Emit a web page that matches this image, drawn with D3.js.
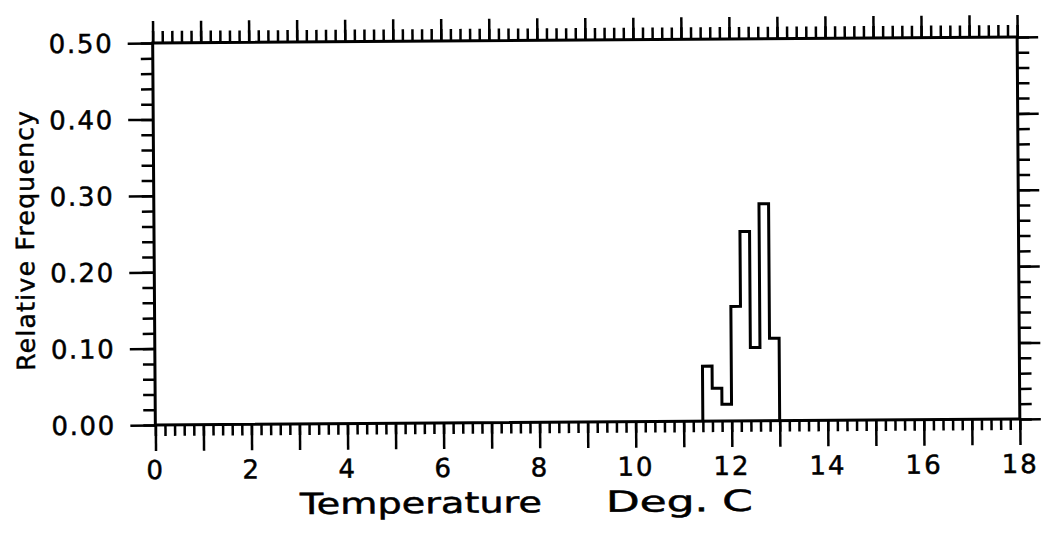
<!DOCTYPE html>
<html>
<head>
<meta charset="utf-8">
<script src="https://cdn.jsdelivr.net/npm/d3@7"></script>
<style>
  html, body { margin: 0; padding: 0; background: #fff; }
  svg { display: block; }
  text { font-family: "DejaVu Sans", sans-serif; fill: #000; stroke: #000; stroke-width: 0.5px; }
</style>
</head>
<body>
<svg id="chart" width="1045" height="541"></svg>
<script>
// ---- data ----
const binLefts = [11.4, 11.6, 11.8, 12.0, 12.2, 12.4, 12.6, 12.8];
const binWidth = 0.2;
const relFreq = [0.072, 0.043, 0.022, 0.150, 0.248, 0.096, 0.284, 0.108];
const xTickLabels = [0, 2, 4, 6, 8, 10, 12, 14, 16, 18];
const yTickLabels = [0.00, 0.10, 0.20, 0.30, 0.40, 0.50];
const xDomain = [0, 18];
const yDomain = [0, 0.5];
const xTitle = "Temperature   Deg. C";
const yTitle = "Relative Frequency";

// ---- layout ----
const L = 154, R = 1018.5, T = 40, B = 422;
const svg = d3.select("#chart");
const g = svg.append("g").attr("transform", "rotate(-0.4, 586, 231)");

const x = d3.scaleLinear().domain(xDomain).range([L, R]);
const y = d3.scaleLinear().domain(yDomain).range([B, T]);

const xMinor = d3.range(0, 91).map(i => i * 0.2);
const xMajor = d3.range(0, 19);
const yMinor = d3.range(0, 26).map(i => i * 0.02);
const yMajor = d3.range(0, 6).map(i => i * 0.1);

function tickAxis(axisFn, scale, values, size, transform) {
  const a = g.append("g").attr("transform", transform)
    .call(axisFn(scale).tickValues(values).tickSize(size).tickFormat(""));
  a.select(".domain").remove();
  a.selectAll("line").attr("stroke", "#000").attr("stroke-width", 2.5);
  a.selectAll("text").remove();
  return a;
}

// bottom
tickAxis(d3.axisBottom, x, xMinor, 11, `translate(0,${B})`);
tickAxis(d3.axisBottom, x, xMajor, 26, `translate(0,${B})`);
// top
tickAxis(d3.axisTop, x, xMinor, 12, `translate(0,${T})`);
tickAxis(d3.axisTop, x, xMajor, 22, `translate(0,${T})`);
// left
tickAxis(d3.axisLeft, y, yMinor, 12, `translate(${L},0)`);
tickAxis(d3.axisLeft, y, yMajor, 25, `translate(${L},0)`);
// right
tickAxis(d3.axisRight, y, yMinor, 12, `translate(${R},0)`);
tickAxis(d3.axisRight, y, yMajor, 21, `translate(${R},0)`);

// frame
g.append("rect")
  .attr("x", L).attr("y", T).attr("width", R - L).attr("height", B - T)
  .attr("fill", "none").attr("stroke", "#000").attr("stroke-width", 3);

// histogram outline
const pts = [[binLefts[0], 0]];
binLefts.forEach((b, i) => pts.push([b, relFreq[i]]));
pts.push([binLefts[binLefts.length - 1] + binWidth, 0]);
const line = d3.line().x(d => x(d[0])).y(d => y(d[1])).curve(d3.curveStepAfter);
g.append("path").attr("d", line(pts))
  .attr("fill", "none").attr("stroke", "#000").attr("stroke-width", 3)
  .attr("stroke-linejoin", "miter");

// tick labels
g.selectAll(".xl").data(xTickLabels).enter().append("text")
  .attr("x", d => x(d)).attr("y", B + 54)
  .attr("text-anchor", "middle").attr("font-size", 26)
  .attr("letter-spacing", 2)
  .text(d => d);

g.selectAll(".yl").data(yTickLabels).enter().append("text")
  .attr("x", 113).attr("y", d => y(d)).attr("dy", "0.36em")
  .attr("text-anchor", "end").attr("font-size", 26)
  .attr("textLength", 63).attr("lengthAdjust", "spacing")
  .text(d => d.toFixed(2));

// titles (split at the wide gap)
const xParts = xTitle.split(/\s{2,}/);
const xPartStart = [298, 604];
const xPartLen = [242, 147];
xParts.forEach((p, i) => {
  g.append("text")
    .attr("x", xPartStart[i]).attr("y", 512)
    .attr("font-size", 29)
    .attr("textLength", xPartLen[i]).attr("lengthAdjust", "spacingAndGlyphs")
    .text(p);
});

g.append("text")
  .attr("transform", "translate(34,237) rotate(-90)")
  .attr("text-anchor", "middle").attr("font-size", 25)
  .attr("textLength", 260).attr("lengthAdjust", "spacing")
  .text(yTitle);
</script>
</body>
</html>
